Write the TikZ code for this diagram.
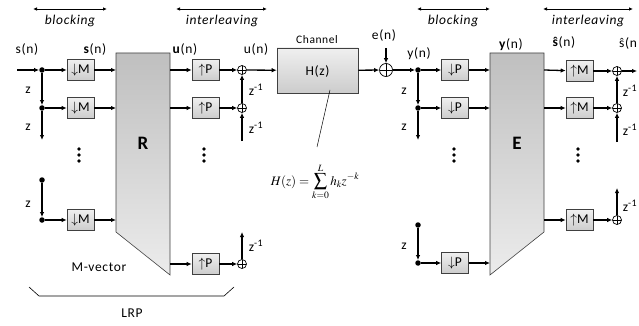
\documentclass[tikz,border=0pt]{standalone}
\usepackage{mathptmx}
\usepackage{fontspec}
\setmainfont{Carlito}[LetterSpace=5]
\usetikzlibrary{arrows.meta,shadings}
\tikzset{
 sig/.style={line width=1.3pt, -{Latex[length=5pt,width=4.5pt]}},
 blk/.style={draw=black!75, line width=0.6pt, top color=gray!12, bottom color=gray!40, minimum width=27pt, minimum height=21pt, inner sep=0pt, font=\fontsize{13.5}{14}\selectfont},
 chbox/.style={blk, minimum width=81pt, minimum height=45pt},
 sumc/.style={circle, draw, line width=0.7pt, fill=white, minimum size=9pt, inner sep=0pt,
   path picture={\draw[line width=0.6pt] (path picture bounding box.north) -- (path picture bounding box.south) (path picture bounding box.west) -- (path picture bounding box.east);}},
 jdot/.style={circle, fill, minimum size=5.5pt, inner sep=0pt},
 lbl/.style={font=\fontsize{13.5}{14}\selectfont, inner sep=0pt},
 hdr/.style={font=\fontsize{13.5}{14}\selectfont\itshape, inner sep=0pt},
 spanarr/.style={line width=0.9pt, {Latex[length=4pt,width=3.5pt]}-{Latex[length=4pt,width=3.5pt]}},
 trap/.style={draw=black!75, line width=0.6pt, top color=gray!50, bottom color=gray!15},
}
\newcommand\zinv{z\textsuperscript{-1}}
\begin{document}
\begin{tikzpicture}[x=1pt,y=-1pt]
\useasboundingbox (0,0) rectangle (639,326);

% headers
\coordinate (hb1a) at (33,9); \coordinate (hb1b) at (107,9);
\coordinate (hi1a) at (176,9); \coordinate (hi1b) at (267,9);
\coordinate (hb2a) at (417,9); \coordinate (hb2b) at (490,9);
\coordinate (hi2a) at (543,9); \coordinate (hi2b) at (633,9);
\draw[spanarr] (hb1a) -- (hb1b);
\draw[spanarr] (hi1a) -- (hi1b);
\draw[spanarr] (hb2a) -- (hb2b);
\draw[spanarr] (hi2a) -- (hi2b);
\node[hdr] (tb1) at (70,21) {blocking};
\node[hdr] (ti1) at (222,21) {interleaving};
\node[hdr] (tb2) at (453,21) {blocking};
\node[hdr] (ti2) at (588,21) {interleaving};

% ---------- left part ----------
\shade[trap] (116,53) -- (170,53) -- (170,275) -- (116,232) -- cycle;
\node[font=\fontsize{19}{19}\selectfont\bfseries] (Rlab) at (143,143) {R};

\coordinate (sin) at (17,70);
\node[jdot] (j1) at (42,70) {};
\node[jdot] (j2) at (42,108) {};
\coordinate (jd1) at (42,140);
\node[jdot] (j3) at (42,180) {};
\node[jdot] (j4) at (42,220) {};
\node[blk] (m1) at (80.5,70) {$\downarrow$M};
\node[blk] (m2) at (80.5,108) {$\downarrow$M};
\node[blk] (m3) at (80.5,220) {$\downarrow$M};
\coordinate (r1) at (116,70); \coordinate (r2) at (116,108); \coordinate (r3) at (116,220);
\coordinate (ro1) at (170,70); \coordinate (ro2) at (170,108); \coordinate (ro3) at (170,264);
\node[blk] (p1) at (205.5,70) {$\uparrow$P};
\node[blk] (p2) at (205.5,108) {$\uparrow$P};
\node[blk] (p3) at (205.5,264) {$\uparrow$P};
\node[sumc] (a1) at (242,70) {};
\node[sumc] (a2) at (242,108) {};
\node[sumc] (a3) at (242,264) {};
\coordinate (ad1) at (242,141);
\coordinate (ad3) at (242,232);

\draw[sig] (sin) -- (j1);
\draw[sig] (j1) -- (m1);
\draw[sig] (j1) -- (j2);
\draw[sig] (j2) -- (m2);
\draw[sig] (j2) -- (jd1);
\draw[sig] (j3) -- (j4);
\draw[sig] (j4) -- (m3);
\draw[sig] (m1) -- (r1);
\draw[sig] (m2) -- (r2);
\draw[sig] (m3) -- (r3);
\draw[sig] (ro1) -- (p1);
\draw[sig] (ro2) -- (p2);
\draw[sig] (ro3) -- (p3);
\draw[sig] (p1) -- (a1);
\draw[sig] (p2) -- (a2);
\draw[sig] (p3) -- (a3);
\draw[sig] (a2) -- (a1);
\draw[sig] (ad1) -- (a2);
\draw[sig] (a3) -- (ad3);

\foreach \yy in {149,155,161} {\fill (79,\yy) circle (1.9pt); \fill (204,\yy) circle (1.9pt);}

\node[lbl] (ls) at (27,50) {s(n)};
\node[lbl] (lsb) at (95,50) {\textbf{s}(n)};
\node[lbl] (lub) at (185,50) {\textbf{u}(n)};
\node[lbl] (lu) at (256,50) {u(n)};
\node[lbl] (z1) at (28,90) {z};
\node[lbl] (z2) at (28,127) {z};
\node[lbl] (z3) at (28,204) {z};
\node[lbl] (zi1) at (256,90) {\zinv};
\node[lbl] (zi2) at (256,128) {\zinv};
\node[lbl] (zi3) at (256,246) {\zinv};
\node[lbl] (mv) at (99,267) {M-vector};
\coordinate (br1) at (29,287); \coordinate (br2) at (39,296);
\coordinate (br3) at (224,296); \coordinate (br4) at (234,287);
\draw[line width=0.6pt] (br1) -- (br2) -- (br3) -- (br4);
\node[lbl] (lrp) at (132,313) {LRP};

% ---------- channel ----------
\node[chbox] (ch) at (317.5,70.5) {};
\node[font=\fontsize{13.5}{14}\selectfont] (hz) at (317.5,71) {H(z)};
\node[lbl, font=\fontsize{11.5}{12}\selectfont] (chl) at (317,40) {Channel};
\draw[sig] (a1) -- (ch);
\coordinate (ann1) at (330,90); \coordinate (ann2) at (317,147);
\draw[line width=0.5pt] (ann1) -- (ann2);
\node[font=\fontsize{13}{14}\selectfont, inner sep=0pt] (frm) at (315,182) {$\displaystyle H(z)=\sum_{k=0}^{L} h_k z^{-k}$};

\node[sumc, minimum size=13pt] (es) at (386,70) {};
\coordinate (ein) at (386,48);
\draw[sig] (ch) -- (es);
\draw[sig] (ein) -- (es);
\node[lbl] (le) at (384,36) {e(n)};

% ---------- right part ----------
\shade[trap] (490,53) -- (544,53) -- (544,232) -- (490,275) -- cycle;
\node[font=\fontsize{19}{19}\selectfont\bfseries] (Elab) at (517,143) {E};

\node[jdot] (k1) at (418,70) {};
\node[jdot] (k2) at (418,108) {};
\coordinate (kd1) at (418,140);
\node[jdot] (k3) at (418,225) {};
\node[jdot] (k4) at (418,263) {};
\node[blk] (d1) at (455,70) {$\downarrow$P};
\node[blk] (d2) at (455,108) {$\downarrow$P};
\node[blk] (d3) at (455,263) {$\downarrow$P};
\coordinate (e1) at (490,70); \coordinate (e2) at (490,108); \coordinate (e3) at (490,263);
\coordinate (eo1) at (544,70); \coordinate (eo2) at (544,108); \coordinate (eo3) at (544,220);
\node[blk] (u1) at (579.5,71) {$\uparrow$M};
\node[blk] (u2) at (579.5,108) {$\uparrow$M};
\node[blk] (u3) at (579.5,220) {$\uparrow$M};
\node[sumc] (b1) at (617,71) {};
\node[sumc] (b2) at (617,108) {};
\node[sumc] (b3) at (617,220) {};
\coordinate (bd1) at (617,142);
\coordinate (bd3) at (617,188);
\coordinate (sout) at (637,71);

\draw[sig] (es) -- (k1);
\draw[sig] (k1) -- (d1);
\draw[sig] (k1) -- (k2);
\draw[sig] (k2) -- (d2);
\draw[sig] (k2) -- (kd1);
\draw[sig] (k3) -- (k4);
\draw[sig] (k4) -- (d3);
\draw[sig] (d1) -- (e1);
\draw[sig] (d2) -- (e2);
\draw[sig] (d3) -- (e3);
\draw[sig] (eo1) -- (u1);
\draw[sig] (eo2) -- (u2);
\draw[sig] (eo3) -- (u3);
\draw[sig] (u1) -- (b1);
\draw[sig] (u2) -- (b2);
\draw[sig] (u3) -- (b3);
\draw[sig] (b2) -- (b1);
\draw[sig] (bd1) -- (b2);
\draw[sig] (b3) -- (bd3);
\draw[sig] (b1) -- (sout);

\foreach \yy in {149,155,161} {\fill (454,\yy) circle (1.9pt); \fill (578,\yy) circle (1.9pt);}

\node[lbl] (ly) at (419,54) {y(n)};
\node[lbl] (lyb) at (511,45) {\textbf{y}(n)};
\node[lbl] (lshb) at (564,42) {\textbf{ŝ}(n)};
\node[lbl, anchor=west] (lsh) at (619,44) {ŝ(n};
\node[lbl] (y1) at (404,91) {z};
\node[lbl] (y2) at (404,127) {z};
\node[lbl] (y3) at (404,246) {z};
\node[lbl] (yi1) at (630,91) {\zinv};
\node[lbl] (yi2) at (630,130) {\zinv};
\node[lbl] (yi3) at (630,206) {\zinv};
\end{tikzpicture}
\end{document}
